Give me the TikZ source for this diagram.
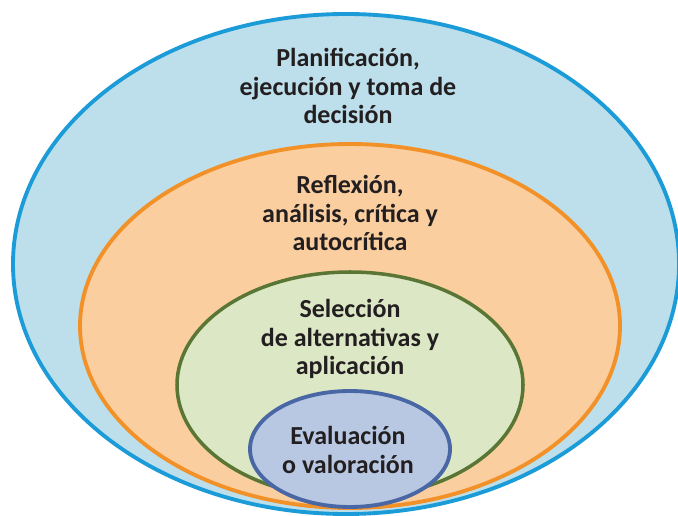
\documentclass[tikz,border=0pt]{standalone}
\usepackage{fontspec}
\setmainfont{Carlito}
\usetikzlibrary{positioning}

\definecolor{skyfill}{HTML}{BDDFEB}
\definecolor{skyline}{HTML}{1B9BD7}
\definecolor{peachfill}{HTML}{FACE9F}
\definecolor{peachline}{HTML}{F39129}
\definecolor{leaffill}{HTML}{DCE8C5}
\definecolor{leafline}{HTML}{5A7634}
\definecolor{slatefill}{HTML}{B8C8E2}
\definecolor{slateline}{HTML}{4A67A5}
\definecolor{inkgray}{HTML}{231F20}

\tikzstyle{ring}=[line width=2.2pt]
\tikzstyle{ringtext}=[font=\bfseries\fontsize{14.8}{16.4}\selectfont, align=center, text=inkgray, inner sep=0pt]

\begin{document}
\begin{tikzpicture}[x=0.02cm, y=-0.02cm]
    \useasboundingbox (0,0) rectangle (678,516);

    % anillo exterior
    \draw[ring, skyline, fill=skyfill] (346,264) ellipse [x radius=333, y radius=250];
    % segundo anillo
    \draw[ring, peachline, fill=peachfill] (350,326) ellipse [x radius=270, y radius=182];
    % tercer anillo
    \draw[ring, leafline, fill=leaffill, line width=2pt] (350,385) ellipse [x radius=173, y radius=113];
    % nucleo
    \draw[ring, slateline, fill=slatefill] (350,449) ellipse [x radius=100, y radius=58];

    % textos
    \node[ringtext] (plan) at (348,86) {Planificación,\\ejecución y toma de\\decisión};
    \node[ringtext] (refl) at (350,213) {Reflexión,\\análisis, crítica y\\autocrítica};
    \node[ringtext] (sele) at (350,339) {Selección\\de alternativas y\\aplicación};
    \node[ringtext] (eval) at (348,450) {Evaluación\\o valoración};
\end{tikzpicture}
\end{document}
